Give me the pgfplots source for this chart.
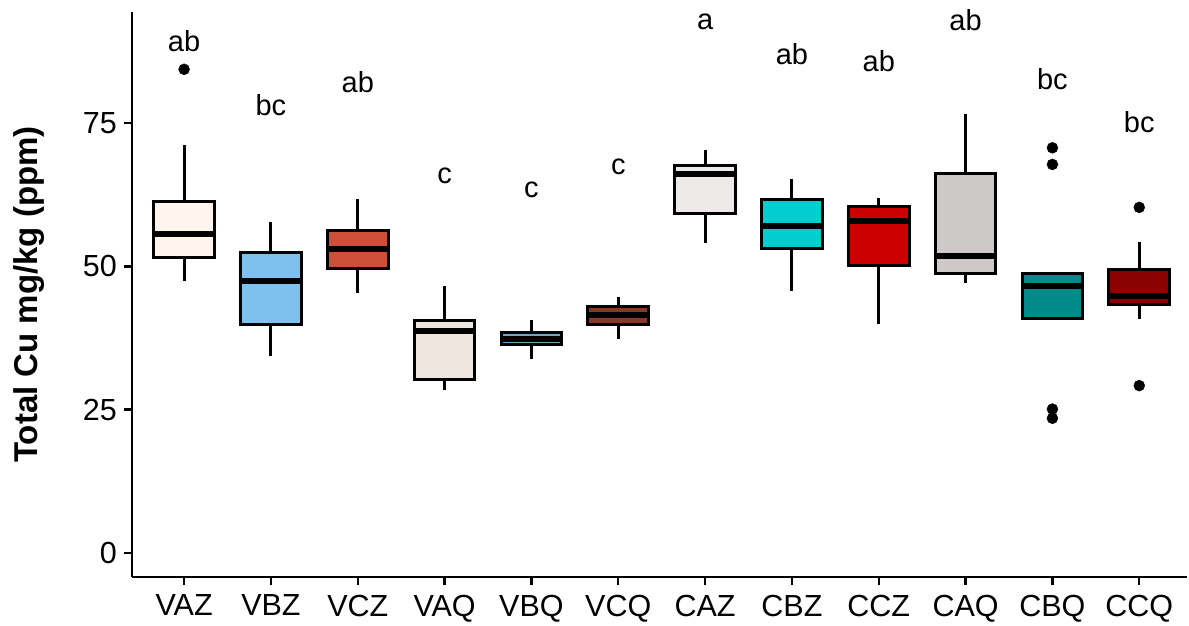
\documentclass[border=0pt]{standalone}
\usepackage{fontspec}
\setmainfont{Liberation Sans}
\usepackage{pgfplots}
\pgfplotsset{compat=1.18}
\usepgfplotslibrary{statistics}
\definecolor{cVAZ}{HTML}{FFF5EE}
\definecolor{cVBZ}{HTML}{7EC0EE}
\definecolor{cVCZ}{HTML}{CD4F39}
\definecolor{cVAQ}{HTML}{EEE5DE}
\definecolor{cVBQ}{HTML}{6CA6CD}
\definecolor{cVCQ}{HTML}{8B3626}
\definecolor{cCAZ}{HTML}{EEE9E9}
\definecolor{cCBZ}{HTML}{00CDCD}
\definecolor{cCCZ}{HTML}{CD0000}
\definecolor{cCAQ}{HTML}{CDC9C9}
\definecolor{cCBQ}{HTML}{008B8B}
\definecolor{cCCQ}{HTML}{8B0000}
\pgfplotsset{
  mybox/.style={draw=black, line width=3pt, mark=*, mark size=5.5pt,
    mark options={fill=black, draw=black, line width=0.4pt}},
}
\begin{document}
\begin{tikzpicture}
\begin{axis}[
  scale only axis, width=1055pt, height=565pt,
  xmin=0.4, xmax=12.55, ymin=-4.2, ymax=94.4,
  axis x line*=bottom, axis y line*=left,
  axis line style={line width=2.4pt, black},
  every tick/.style={line width=2.4pt, black},
  tick align=outside, major tick length=7.5pt,
  xtick={1,...,12},
  xticklabels={VAZ,VBZ,VCZ,VAQ,VBQ,VCQ,CAZ,CBZ,CCZ,CAQ,CBQ,CCQ},
  ytick={0,25,50,75},
  tick label style={font=\fontsize{30.5}{31}\selectfont, inner sep=0pt},
  /pgf/number format/assume math mode=true,
  xticklabel shift=10pt, yticklabel shift=7.5pt,
  ylabel={Total Cu mg/kg (ppm)},
  ylabel style={font=\fontsize{33}{34}\selectfont\bfseries, at={(axis description cs:-0.112,0.5)}, anchor=north, inner sep=0pt},
  boxplot/draw direction=y,
  boxplot/box extend=0.7, boxplot/whisker extend=0,
  boxplot/every median/.style={line width=6pt, draw=black},
  clip=false,
]
\addplot[mybox, fill=cVAZ, boxplot prepared={draw position=1, lower whisker=47.4, lower quartile=51.5, median=55.6, upper quartile=61.3, upper whisker=71.2}] coordinates {(0,84.4)};
\addplot[mybox, fill=cVBZ, boxplot prepared={draw position=2, lower whisker=34.4, lower quartile=39.9, median=47.4, upper quartile=52.5, upper whisker=57.8}] coordinates {};
\addplot[mybox, fill=cVCZ, boxplot prepared={draw position=3, lower whisker=45.4, lower quartile=49.7, median=53.0, upper quartile=56.3, upper whisker=61.7}] coordinates {};
\addplot[mybox, fill=cVAQ, boxplot prepared={draw position=4, lower whisker=28.4, lower quartile=30.2, median=38.7, upper quartile=40.5, upper whisker=46.6}] coordinates {};
\addplot[mybox, fill=cVBQ, boxplot prepared={draw position=5, lower whisker=33.8, lower quartile=36.3, median=37.3, upper quartile=38.4, upper whisker=40.6}] coordinates {};
\addplot[mybox, fill=cVCQ, boxplot prepared={draw position=6, lower whisker=37.3, lower quartile=39.8, median=41.5, upper quartile=43.0, upper whisker=44.6}] coordinates {};
\addplot[mybox, fill=cCAZ, boxplot prepared={draw position=7, lower whisker=54.1, lower quartile=59.3, median=66.1, upper quartile=67.6, upper whisker=70.3}] coordinates {};
\addplot[mybox, fill=cCBZ, boxplot prepared={draw position=8, lower whisker=45.7, lower quartile=53.1, median=57.0, upper quartile=61.7, upper whisker=65.2}] coordinates {};
\addplot[mybox, fill=cCCZ, boxplot prepared={draw position=9, lower whisker=39.9, lower quartile=50.2, median=58.0, upper quartile=60.4, upper whisker=61.9}] coordinates {};
\addplot[mybox, fill=cCAQ, boxplot prepared={draw position=10, lower whisker=47.1, lower quartile=48.8, median=51.9, upper quartile=66.2, upper whisker=76.6}] coordinates {};
\addplot[mybox, fill=cCBQ, boxplot prepared={draw position=11, lower whisker=40.9, lower quartile=40.9, median=46.6, upper quartile=48.8, upper whisker=48.8}] coordinates {(0,70.7) (0,67.8) (0,25.1) (0,23.5)};
\addplot[mybox, fill=cCCQ, boxplot prepared={draw position=12, lower whisker=40.9, lower quartile=43.4, median=44.9, upper quartile=49.4, upper whisker=54.3}] coordinates {(0,60.3) (0,29.2)};
\begin{scope}[every node/.style={anchor=base, font=\fontsize{29}{30}\selectfont}]
\node at (axis cs:1,87.45) {ab};
\node at (axis cs:2,76.4) {bc};
\node at (axis cs:3,80.4) {ab};
\node at (axis cs:4,64.5) {c};
\node at (axis cs:5,62.0) {c};
\node at (axis cs:6,66.1) {c};
\node at (axis cs:7,91.3) {a};
\node at (axis cs:8,85.3) {ab};
\node at (axis cs:9,84.1) {ab};
\node at (axis cs:10,91.1) {ab};
\node at (axis cs:11,80.9) {bc};
\node at (axis cs:12,73.4) {bc};
\end{scope}
\end{axis}
\pgfresetboundingbox
\path ([xshift=-132pt,yshift=-48pt]current axis.south west) rectangle ([xshift=2pt,yshift=12pt]current axis.north east);
\end{tikzpicture}
\end{document}
